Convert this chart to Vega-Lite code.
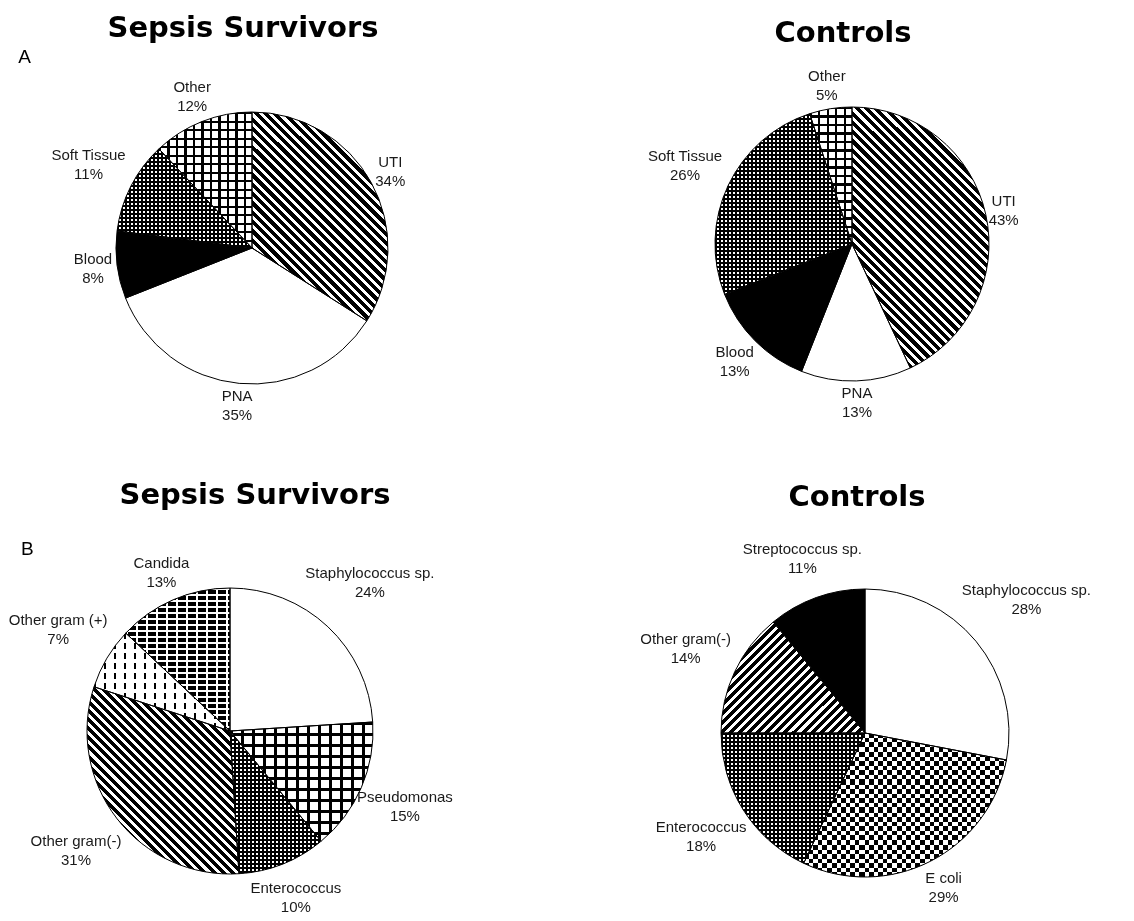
{
  "$schema": "https://vega.github.io/schema/vega-lite/v6.json",
  "background": "#ffffff",
  "padding": {"left": 8, "top": 14, "right": 0, "bottom": 0},
  "params": [
    {"name": "stripes", "value": [
      {"offset":0,"color":"#000"},{"offset":0.011,"color":"#000"},{"offset":0.011,"color":"#fff"},{"offset":0.02,"color":"#fff"},
      {"offset":0.02,"color":"#000"},{"offset":0.031,"color":"#000"},{"offset":0.031,"color":"#fff"},{"offset":0.04,"color":"#fff"},
      {"offset":0.04,"color":"#000"},{"offset":0.051,"color":"#000"},{"offset":0.051,"color":"#fff"},{"offset":0.06,"color":"#fff"},
      {"offset":0.06,"color":"#000"},{"offset":0.071,"color":"#000"},{"offset":0.071,"color":"#fff"},{"offset":0.08,"color":"#fff"},
      {"offset":0.08,"color":"#000"},{"offset":0.091,"color":"#000"},{"offset":0.091,"color":"#fff"},{"offset":0.1,"color":"#fff"},
      {"offset":0.1,"color":"#000"},{"offset":0.111,"color":"#000"},{"offset":0.111,"color":"#fff"},{"offset":0.12,"color":"#fff"},
      {"offset":0.12,"color":"#000"},{"offset":0.131,"color":"#000"},{"offset":0.131,"color":"#fff"},{"offset":0.14,"color":"#fff"},
      {"offset":0.14,"color":"#000"},{"offset":0.151,"color":"#000"},{"offset":0.151,"color":"#fff"},{"offset":0.16,"color":"#fff"},
      {"offset":0.16,"color":"#000"},{"offset":0.171,"color":"#000"},{"offset":0.171,"color":"#fff"},{"offset":0.18,"color":"#fff"},
      {"offset":0.18,"color":"#000"},{"offset":0.191,"color":"#000"},{"offset":0.191,"color":"#fff"},{"offset":0.2,"color":"#fff"},
      {"offset":0.2,"color":"#000"},{"offset":0.211,"color":"#000"},{"offset":0.211,"color":"#fff"},{"offset":0.22,"color":"#fff"},
      {"offset":0.22,"color":"#000"},{"offset":0.231,"color":"#000"},{"offset":0.231,"color":"#fff"},{"offset":0.24,"color":"#fff"},
      {"offset":0.24,"color":"#000"},{"offset":0.251,"color":"#000"},{"offset":0.251,"color":"#fff"},{"offset":0.26,"color":"#fff"},
      {"offset":0.26,"color":"#000"},{"offset":0.271,"color":"#000"},{"offset":0.271,"color":"#fff"},{"offset":0.28,"color":"#fff"},
      {"offset":0.28,"color":"#000"},{"offset":0.291,"color":"#000"},{"offset":0.291,"color":"#fff"},{"offset":0.3,"color":"#fff"},
      {"offset":0.3,"color":"#000"},{"offset":0.311,"color":"#000"},{"offset":0.311,"color":"#fff"},{"offset":0.32,"color":"#fff"},
      {"offset":0.32,"color":"#000"},{"offset":0.331,"color":"#000"},{"offset":0.331,"color":"#fff"},{"offset":0.34,"color":"#fff"},
      {"offset":0.34,"color":"#000"},{"offset":0.351,"color":"#000"},{"offset":0.351,"color":"#fff"},{"offset":0.36,"color":"#fff"},
      {"offset":0.36,"color":"#000"},{"offset":0.371,"color":"#000"},{"offset":0.371,"color":"#fff"},{"offset":0.38,"color":"#fff"},
      {"offset":0.38,"color":"#000"},{"offset":0.391,"color":"#000"},{"offset":0.391,"color":"#fff"},{"offset":0.4,"color":"#fff"},
      {"offset":0.4,"color":"#000"},{"offset":0.411,"color":"#000"},{"offset":0.411,"color":"#fff"},{"offset":0.42,"color":"#fff"},
      {"offset":0.42,"color":"#000"},{"offset":0.431,"color":"#000"},{"offset":0.431,"color":"#fff"},{"offset":0.44,"color":"#fff"},
      {"offset":0.44,"color":"#000"},{"offset":0.451,"color":"#000"},{"offset":0.451,"color":"#fff"},{"offset":0.46,"color":"#fff"},
      {"offset":0.46,"color":"#000"},{"offset":0.471,"color":"#000"},{"offset":0.471,"color":"#fff"},{"offset":0.48,"color":"#fff"},
      {"offset":0.48,"color":"#000"},{"offset":0.491,"color":"#000"},{"offset":0.491,"color":"#fff"},{"offset":0.5,"color":"#fff"},
      {"offset":0.5,"color":"#000"},{"offset":0.511,"color":"#000"},{"offset":0.511,"color":"#fff"},{"offset":0.52,"color":"#fff"},
      {"offset":0.52,"color":"#000"},{"offset":0.531,"color":"#000"},{"offset":0.531,"color":"#fff"},{"offset":0.54,"color":"#fff"},
      {"offset":0.54,"color":"#000"},{"offset":0.551,"color":"#000"},{"offset":0.551,"color":"#fff"},{"offset":0.56,"color":"#fff"},
      {"offset":0.56,"color":"#000"},{"offset":0.571,"color":"#000"},{"offset":0.571,"color":"#fff"},{"offset":0.58,"color":"#fff"},
      {"offset":0.58,"color":"#000"},{"offset":0.591,"color":"#000"},{"offset":0.591,"color":"#fff"},{"offset":0.6,"color":"#fff"},
      {"offset":0.6,"color":"#000"},{"offset":0.611,"color":"#000"},{"offset":0.611,"color":"#fff"},{"offset":0.62,"color":"#fff"},
      {"offset":0.62,"color":"#000"},{"offset":0.631,"color":"#000"},{"offset":0.631,"color":"#fff"},{"offset":0.64,"color":"#fff"},
      {"offset":0.64,"color":"#000"},{"offset":0.651,"color":"#000"},{"offset":0.651,"color":"#fff"},{"offset":0.66,"color":"#fff"},
      {"offset":0.66,"color":"#000"},{"offset":0.671,"color":"#000"},{"offset":0.671,"color":"#fff"},{"offset":0.68,"color":"#fff"},
      {"offset":0.68,"color":"#000"},{"offset":0.691,"color":"#000"},{"offset":0.691,"color":"#fff"},{"offset":0.7,"color":"#fff"},
      {"offset":0.7,"color":"#000"},{"offset":0.711,"color":"#000"},{"offset":0.711,"color":"#fff"},{"offset":0.72,"color":"#fff"},
      {"offset":0.72,"color":"#000"},{"offset":0.731,"color":"#000"},{"offset":0.731,"color":"#fff"},{"offset":0.74,"color":"#fff"},
      {"offset":0.74,"color":"#000"},{"offset":0.751,"color":"#000"},{"offset":0.751,"color":"#fff"},{"offset":0.76,"color":"#fff"},
      {"offset":0.76,"color":"#000"},{"offset":0.771,"color":"#000"},{"offset":0.771,"color":"#fff"},{"offset":0.78,"color":"#fff"},
      {"offset":0.78,"color":"#000"},{"offset":0.791,"color":"#000"},{"offset":0.791,"color":"#fff"},{"offset":0.8,"color":"#fff"},
      {"offset":0.8,"color":"#000"},{"offset":0.811,"color":"#000"},{"offset":0.811,"color":"#fff"},{"offset":0.82,"color":"#fff"},
      {"offset":0.82,"color":"#000"},{"offset":0.831,"color":"#000"},{"offset":0.831,"color":"#fff"},{"offset":0.84,"color":"#fff"},
      {"offset":0.84,"color":"#000"},{"offset":0.851,"color":"#000"},{"offset":0.851,"color":"#fff"},{"offset":0.86,"color":"#fff"},
      {"offset":0.86,"color":"#000"},{"offset":0.871,"color":"#000"},{"offset":0.871,"color":"#fff"},{"offset":0.88,"color":"#fff"},
      {"offset":0.88,"color":"#000"},{"offset":0.891,"color":"#000"},{"offset":0.891,"color":"#fff"},{"offset":0.9,"color":"#fff"},
      {"offset":0.9,"color":"#000"},{"offset":0.911,"color":"#000"},{"offset":0.911,"color":"#fff"},{"offset":0.92,"color":"#fff"},
      {"offset":0.92,"color":"#000"},{"offset":0.931,"color":"#000"},{"offset":0.931,"color":"#fff"},{"offset":0.94,"color":"#fff"},
      {"offset":0.94,"color":"#000"},{"offset":0.951,"color":"#000"},{"offset":0.951,"color":"#fff"},{"offset":0.96,"color":"#fff"},
      {"offset":0.96,"color":"#000"},{"offset":0.971,"color":"#000"},{"offset":0.971,"color":"#fff"},{"offset":0.98,"color":"#fff"},
      {"offset":0.98,"color":"#000"},{"offset":0.991,"color":"#000"},{"offset":0.991,"color":"#fff"},{"offset":1,"color":"#fff"}
    ]},
    {"name": "lines", "value": [
      {"offset":0,"color":"#000"},{"offset":0.005,"color":"#000"},{"offset":0.005,"color":"#fff"},{"offset":0.02,"color":"#fff"},
      {"offset":0.02,"color":"#000"},{"offset":0.025,"color":"#000"},{"offset":0.025,"color":"#fff"},{"offset":0.04,"color":"#fff"},
      {"offset":0.04,"color":"#000"},{"offset":0.045,"color":"#000"},{"offset":0.045,"color":"#fff"},{"offset":0.06,"color":"#fff"},
      {"offset":0.06,"color":"#000"},{"offset":0.065,"color":"#000"},{"offset":0.065,"color":"#fff"},{"offset":0.08,"color":"#fff"},
      {"offset":0.08,"color":"#000"},{"offset":0.085,"color":"#000"},{"offset":0.085,"color":"#fff"},{"offset":0.1,"color":"#fff"},
      {"offset":0.1,"color":"#000"},{"offset":0.105,"color":"#000"},{"offset":0.105,"color":"#fff"},{"offset":0.12,"color":"#fff"},
      {"offset":0.12,"color":"#000"},{"offset":0.125,"color":"#000"},{"offset":0.125,"color":"#fff"},{"offset":0.14,"color":"#fff"},
      {"offset":0.14,"color":"#000"},{"offset":0.145,"color":"#000"},{"offset":0.145,"color":"#fff"},{"offset":0.16,"color":"#fff"},
      {"offset":0.16,"color":"#000"},{"offset":0.165,"color":"#000"},{"offset":0.165,"color":"#fff"},{"offset":0.18,"color":"#fff"},
      {"offset":0.18,"color":"#000"},{"offset":0.185,"color":"#000"},{"offset":0.185,"color":"#fff"},{"offset":0.2,"color":"#fff"},
      {"offset":0.2,"color":"#000"},{"offset":0.205,"color":"#000"},{"offset":0.205,"color":"#fff"},{"offset":0.22,"color":"#fff"},
      {"offset":0.22,"color":"#000"},{"offset":0.225,"color":"#000"},{"offset":0.225,"color":"#fff"},{"offset":0.24,"color":"#fff"},
      {"offset":0.24,"color":"#000"},{"offset":0.245,"color":"#000"},{"offset":0.245,"color":"#fff"},{"offset":0.26,"color":"#fff"},
      {"offset":0.26,"color":"#000"},{"offset":0.265,"color":"#000"},{"offset":0.265,"color":"#fff"},{"offset":0.28,"color":"#fff"},
      {"offset":0.28,"color":"#000"},{"offset":0.285,"color":"#000"},{"offset":0.285,"color":"#fff"},{"offset":0.3,"color":"#fff"},
      {"offset":0.3,"color":"#000"},{"offset":0.305,"color":"#000"},{"offset":0.305,"color":"#fff"},{"offset":0.32,"color":"#fff"},
      {"offset":0.32,"color":"#000"},{"offset":0.325,"color":"#000"},{"offset":0.325,"color":"#fff"},{"offset":0.34,"color":"#fff"},
      {"offset":0.34,"color":"#000"},{"offset":0.345,"color":"#000"},{"offset":0.345,"color":"#fff"},{"offset":0.36,"color":"#fff"},
      {"offset":0.36,"color":"#000"},{"offset":0.365,"color":"#000"},{"offset":0.365,"color":"#fff"},{"offset":0.38,"color":"#fff"},
      {"offset":0.38,"color":"#000"},{"offset":0.385,"color":"#000"},{"offset":0.385,"color":"#fff"},{"offset":0.4,"color":"#fff"},
      {"offset":0.4,"color":"#000"},{"offset":0.405,"color":"#000"},{"offset":0.405,"color":"#fff"},{"offset":0.42,"color":"#fff"},
      {"offset":0.42,"color":"#000"},{"offset":0.425,"color":"#000"},{"offset":0.425,"color":"#fff"},{"offset":0.44,"color":"#fff"},
      {"offset":0.44,"color":"#000"},{"offset":0.445,"color":"#000"},{"offset":0.445,"color":"#fff"},{"offset":0.46,"color":"#fff"},
      {"offset":0.46,"color":"#000"},{"offset":0.465,"color":"#000"},{"offset":0.465,"color":"#fff"},{"offset":0.48,"color":"#fff"},
      {"offset":0.48,"color":"#000"},{"offset":0.485,"color":"#000"},{"offset":0.485,"color":"#fff"},{"offset":0.5,"color":"#fff"},
      {"offset":0.5,"color":"#000"},{"offset":0.505,"color":"#000"},{"offset":0.505,"color":"#fff"},{"offset":0.52,"color":"#fff"},
      {"offset":0.52,"color":"#000"},{"offset":0.525,"color":"#000"},{"offset":0.525,"color":"#fff"},{"offset":0.54,"color":"#fff"},
      {"offset":0.54,"color":"#000"},{"offset":0.545,"color":"#000"},{"offset":0.545,"color":"#fff"},{"offset":0.56,"color":"#fff"},
      {"offset":0.56,"color":"#000"},{"offset":0.565,"color":"#000"},{"offset":0.565,"color":"#fff"},{"offset":0.58,"color":"#fff"},
      {"offset":0.58,"color":"#000"},{"offset":0.585,"color":"#000"},{"offset":0.585,"color":"#fff"},{"offset":0.6,"color":"#fff"},
      {"offset":0.6,"color":"#000"},{"offset":0.605,"color":"#000"},{"offset":0.605,"color":"#fff"},{"offset":0.62,"color":"#fff"},
      {"offset":0.62,"color":"#000"},{"offset":0.625,"color":"#000"},{"offset":0.625,"color":"#fff"},{"offset":0.64,"color":"#fff"},
      {"offset":0.64,"color":"#000"},{"offset":0.645,"color":"#000"},{"offset":0.645,"color":"#fff"},{"offset":0.66,"color":"#fff"},
      {"offset":0.66,"color":"#000"},{"offset":0.665,"color":"#000"},{"offset":0.665,"color":"#fff"},{"offset":0.68,"color":"#fff"},
      {"offset":0.68,"color":"#000"},{"offset":0.685,"color":"#000"},{"offset":0.685,"color":"#fff"},{"offset":0.7,"color":"#fff"},
      {"offset":0.7,"color":"#000"},{"offset":0.705,"color":"#000"},{"offset":0.705,"color":"#fff"},{"offset":0.72,"color":"#fff"},
      {"offset":0.72,"color":"#000"},{"offset":0.725,"color":"#000"},{"offset":0.725,"color":"#fff"},{"offset":0.74,"color":"#fff"},
      {"offset":0.74,"color":"#000"},{"offset":0.745,"color":"#000"},{"offset":0.745,"color":"#fff"},{"offset":0.76,"color":"#fff"},
      {"offset":0.76,"color":"#000"},{"offset":0.765,"color":"#000"},{"offset":0.765,"color":"#fff"},{"offset":0.78,"color":"#fff"},
      {"offset":0.78,"color":"#000"},{"offset":0.785,"color":"#000"},{"offset":0.785,"color":"#fff"},{"offset":0.8,"color":"#fff"},
      {"offset":0.8,"color":"#000"},{"offset":0.805,"color":"#000"},{"offset":0.805,"color":"#fff"},{"offset":0.82,"color":"#fff"},
      {"offset":0.82,"color":"#000"},{"offset":0.825,"color":"#000"},{"offset":0.825,"color":"#fff"},{"offset":0.84,"color":"#fff"},
      {"offset":0.84,"color":"#000"},{"offset":0.845,"color":"#000"},{"offset":0.845,"color":"#fff"},{"offset":0.86,"color":"#fff"},
      {"offset":0.86,"color":"#000"},{"offset":0.865,"color":"#000"},{"offset":0.865,"color":"#fff"},{"offset":0.88,"color":"#fff"},
      {"offset":0.88,"color":"#000"},{"offset":0.885,"color":"#000"},{"offset":0.885,"color":"#fff"},{"offset":0.9,"color":"#fff"},
      {"offset":0.9,"color":"#000"},{"offset":0.905,"color":"#000"},{"offset":0.905,"color":"#fff"},{"offset":0.92,"color":"#fff"},
      {"offset":0.92,"color":"#000"},{"offset":0.925,"color":"#000"},{"offset":0.925,"color":"#fff"},{"offset":0.94,"color":"#fff"},
      {"offset":0.94,"color":"#000"},{"offset":0.945,"color":"#000"},{"offset":0.945,"color":"#fff"},{"offset":0.96,"color":"#fff"},
      {"offset":0.96,"color":"#000"},{"offset":0.965,"color":"#000"},{"offset":0.965,"color":"#fff"},{"offset":0.98,"color":"#fff"},
      {"offset":0.98,"color":"#000"},{"offset":0.985,"color":"#000"},{"offset":0.985,"color":"#fff"},{"offset":1,"color":"#fff"}
    ]}
  ],
  "config": {"view": {"stroke": null}},
  "spacing": 36,
  "vconcat": [
    {
      "title": {"text": "A", "orient": "left", "anchor": "end", "frame": "group", "angle": 0, "align": "left", "baseline": "top", "font": "Liberation Sans", "fontSize": 19, "fontWeight": "normal", "color": "#000000", "offset": 0, "dy": -3},
      "bounds": "flush",
      "spacing": 148,
      "hconcat": [
        {
          "width": 442, "height": 394,
          "title": {"text": "Sepsis Survivors", "font": "DejaVu Sans", "fontSize": 29, "fontWeight": "bold", "color": "#000000", "anchor": "middle", "frame": "group", "baseline": "alphabetic", "offset": -15, "dx": -9},
          "data": {"values": [
            {"name": "UTI", "pct": 34},
            {"name": "PNA", "pct": 35},
            {"name": "Blood", "pct": 8},
            {"name": "Soft Tissue", "pct": 11},
            {"name": "Other", "pct": 12}
          ]},
          "transform": [
            {"window": [{"op": "sum", "field": "pct", "as": "end"}], "frame": [null, 0]},
            {"calculate": "datum.end - datum.pct", "as": "start"},
            {"calculate": "datum.end - datum.pct / 2", "as": "mid"},
            {"calculate": "datum.name + '\\n' + datum.pct + '%'", "as": "label"},
            {"calculate": "140 + abs(sin(datum.mid * PI / 50)) * length(datum.name) * 3.65 + abs(cos(datum.mid * PI / 50)) * 17", "as": "lr"}
          ],
          "layer": [
            {"mark": {"type": "arc", "radius": 136},
             "encoding": {"theta": {"field": "start", "type": "quantitative", "stack": null, "scale": {"domain": [0, 100]}}, "theta2": {"field": "end"},
                          "fill": {"condition": {"test": "datum.name === 'Blood'", "value": "#000000"}, "value": "#ffffff"}}},
            {"transform": [{"filter": "datum.name === 'UTI'"}],
             "mark": {"type": "arc", "radius": 136, "fill": {"expr": "{'gradient': 'linear', 'x1': 1, 'y1': 0, 'x2': -0.0215, 'y2': 1.569, 'stops': stripes}"}},
             "encoding": {"theta": {"field": "start", "type": "quantitative", "stack": null, "scale": {"domain": [0, 100]}}, "theta2": {"field": "end"}}},
            {"transform": [{"filter": "datum.name === 'Other'"}],
             "mark": {"type": "arc", "radius": 136, "fill": {"expr": "{'gradient': 'linear', 'x1': 0, 'y1': 0, 'x2': 0, 'y2': 3.125, 'stops': lines}"}},
             "encoding": {"theta": {"field": "start", "type": "quantitative", "stack": null, "scale": {"domain": [0, 100]}}, "theta2": {"field": "end"}}},
            {"transform": [{"filter": "datum.name === 'Other'"}],
             "mark": {"type": "arc", "radius": 136, "blend": "multiply", "fill": {"expr": "{'gradient': 'linear', 'x1': 0, 'y1': 0, 'x2': 4.565, 'y2': 0, 'stops': lines}"}},
             "encoding": {"theta": {"field": "start", "type": "quantitative", "stack": null, "scale": {"domain": [0, 100]}}, "theta2": {"field": "end"}}},
            {"transform": [{"filter": "datum.name === 'Soft Tissue'"}],
             "mark": {"type": "arc", "radius": 136, "fill": {"expr": "{'gradient': 'linear', 'x1': 0, 'y1': 0, 'x2': 0, 'y2': 2.018, 'stops': stripes}"}},
             "encoding": {"theta": {"field": "start", "type": "quantitative", "stack": null, "scale": {"domain": [0, 100]}}, "theta2": {"field": "end"}}},
            {"transform": [{"filter": "datum.name === 'Soft Tissue'"}],
             "mark": {"type": "arc", "radius": 136, "blend": "multiply", "fill": {"expr": "{'gradient': 'linear', 'x1': 0, 'y1': 0, 'x2': 1.483, 'y2': 0, 'stops': stripes}"}},
             "encoding": {"theta": {"field": "start", "type": "quantitative", "stack": null, "scale": {"domain": [0, 100]}}, "theta2": {"field": "end"}}},
            {"mark": {"type": "arc", "radius": 136, "filled": false, "stroke": "#000000", "strokeWidth": 1},
             "encoding": {"theta": {"field": "start", "type": "quantitative", "stack": null, "scale": {"domain": [0, 100]}}, "theta2": {"field": "end"}}},
            {"mark": {"type": "text", "font": "Liberation Sans", "fontSize": 15, "lineBreak": "\n", "lineHeight": 19, "color": "#1a1a1a", "align": "center", "baseline": "middle", "dy": -9.5},
             "encoding": {"theta": {"field": "mid", "type": "quantitative", "stack": null, "scale": {"domain": [0, 100]}},
                          "radius": {"field": "lr", "type": "quantitative", "scale": null},
                          "text": {"field": "label", "type": "nominal"}}}
          ]
        },
        {
          "width": 462, "height": 386,
          "title": {"text": "Controls", "font": "DejaVu Sans", "fontSize": 29, "fontWeight": "bold", "color": "#000000", "anchor": "middle", "frame": "group", "baseline": "alphabetic", "offset": -20, "dx": -9},
          "data": {"values": [
            {"name": "UTI", "pct": 43},
            {"name": "PNA", "pct": 13},
            {"name": "Blood", "pct": 13},
            {"name": "Soft Tissue", "pct": 26},
            {"name": "Other", "pct": 5}
          ]},
          "transform": [
            {"window": [{"op": "sum", "field": "pct", "as": "end"}], "frame": [null, 0]},
            {"calculate": "datum.end - datum.pct", "as": "start"},
            {"calculate": "datum.end - datum.pct / 2", "as": "mid"},
            {"calculate": "datum.name + '\\n' + datum.pct + '%'", "as": "label"},
            {"calculate": "141 + abs(sin(datum.mid * PI / 50)) * length(datum.name) * 3.65 + abs(cos(datum.mid * PI / 50)) * 17", "as": "lr"}
          ],
          "layer": [
            {"mark": {"type": "arc", "radius": 137},
             "encoding": {"theta": {"field": "start", "type": "quantitative", "stack": null, "scale": {"domain": [0, 100]}}, "theta2": {"field": "end"},
                          "fill": {"condition": {"test": "datum.name === 'Blood'", "value": "#000000"}, "value": "#ffffff"}}},
            {"transform": [{"filter": "datum.name === 'UTI'"}],
             "mark": {"type": "arc", "radius": 137, "fill": {"expr": "{'gradient': 'linear', 'x1': 1, 'y1': 0, 'x2': 0.2642, 'y2': 1.4018, 'stops': stripes}"}},
             "encoding": {"theta": {"field": "start", "type": "quantitative", "stack": null, "scale": {"domain": [0, 100]}}, "theta2": {"field": "end"}}},
            {"transform": [{"filter": "datum.name === 'Other'"}],
             "mark": {"type": "arc", "radius": 137, "fill": {"expr": "{'gradient': 'linear', 'x1': 0, 'y1': 0, 'x2': 0, 'y2': 3.102, 'stops': lines}"}},
             "encoding": {"theta": {"field": "start", "type": "quantitative", "stack": null, "scale": {"domain": [0, 100]}}, "theta2": {"field": "end"}}},
            {"transform": [{"filter": "datum.name === 'Other'"}],
             "mark": {"type": "arc", "radius": 137, "blend": "multiply", "fill": {"expr": "{'gradient': 'linear', 'x1': 0, 'y1': 0, 'x2': 10.047, 'y2': 0, 'stops': lines}"}},
             "encoding": {"theta": {"field": "start", "type": "quantitative", "stack": null, "scale": {"domain": [0, 100]}}, "theta2": {"field": "end"}}},
            {"transform": [{"filter": "datum.name === 'Soft Tissue'"}],
             "mark": {"type": "arc", "radius": 137, "fill": {"expr": "{'gradient': 'linear', 'x1': 0, 'y1': 0, 'x2': 0, 'y2': 1.107, 'stops': stripes}"}},
             "encoding": {"theta": {"field": "start", "type": "quantitative", "stack": null, "scale": {"domain": [0, 100]}}, "theta2": {"field": "end"}}},
            {"transform": [{"filter": "datum.name === 'Soft Tissue'"}],
             "mark": {"type": "arc", "radius": 137, "blend": "multiply", "fill": {"expr": "{'gradient': 'linear', 'x1': 0, 'y1': 0, 'x2': 1.46, 'y2': 0, 'stops': stripes}"}},
             "encoding": {"theta": {"field": "start", "type": "quantitative", "stack": null, "scale": {"domain": [0, 100]}}, "theta2": {"field": "end"}}},
            {"mark": {"type": "arc", "radius": 137, "filled": false, "stroke": "#000000", "strokeWidth": 1},
             "encoding": {"theta": {"field": "start", "type": "quantitative", "stack": null, "scale": {"domain": [0, 100]}}, "theta2": {"field": "end"}}},
            {"mark": {"type": "text", "font": "Liberation Sans", "fontSize": 15, "lineBreak": "\n", "lineHeight": 19, "color": "#1a1a1a", "align": "center", "baseline": "middle", "dy": -9.5},
             "encoding": {"theta": {"field": "mid", "type": "quantitative", "stack": null, "scale": {"domain": [0, 100]}},
                          "radius": {"field": "lr", "type": "quantitative", "scale": null},
                          "text": {"field": "label", "type": "nominal"}}}
          ]
        }
      ]
    },
    {
      "title": {"text": "B", "orient": "left", "anchor": "end", "frame": "group", "angle": 0, "align": "left", "baseline": "top", "font": "Liberation Sans", "fontSize": 19, "fontWeight": "normal", "color": "#000000", "offset": -25, "dy": -5},
      "bounds": "flush",
      "spacing": 202,
      "hconcat": [
        {
          "width": 398, "height": 372,
          "title": {"text": "Sepsis Survivors", "font": "DejaVu Sans", "fontSize": 29, "fontWeight": "bold", "color": "#000000", "anchor": "middle", "frame": "group", "baseline": "alphabetic", "offset": 12, "dx": 25},
          "data": {"values": [
            {"name": "Staphylococcus sp.", "pct": 24},
            {"name": "Pseudomonas", "pct": 15},
            {"name": "Enterococcus", "pct": 10},
            {"name": "Other gram(-)", "pct": 31},
            {"name": "Other gram (+)", "pct": 7},
            {"name": "Candida", "pct": 13}
          ]},
          "transform": [
            {"window": [{"op": "sum", "field": "pct", "as": "end"}], "frame": [null, 0]},
            {"calculate": "datum.end - datum.pct", "as": "start"},
            {"calculate": "datum.end - datum.pct / 2", "as": "mid"},
            {"calculate": "datum.name + '\\n' + datum.pct + '%'", "as": "label"},
            {"calculate": "147 + abs(sin(datum.mid * PI / 50)) * length(datum.name) * 3.65 + abs(cos(datum.mid * PI / 50)) * 17", "as": "lr"}
          ],
          "layer": [
            {"mark": {"type": "arc", "radius": 143, "fill": "#ffffff"},
             "encoding": {"theta": {"field": "start", "type": "quantitative", "stack": null, "scale": {"domain": [0, 100]}}, "theta2": {"field": "end"}}},
            {"transform": [{"filter": "datum.name === 'Pseudomonas'"}],
             "mark": {"type": "arc", "radius": 143, "fill": {"expr": "{'gradient': 'linear', 'x1': 0, 'y1': 0, 'x2': 0, 'y2': 4.614, 'stops': lines}"}},
             "encoding": {"theta": {"field": "start", "type": "quantitative", "stack": null, "scale": {"domain": [0, 100]}}, "theta2": {"field": "end"}}},
            {"transform": [{"filter": "datum.name === 'Pseudomonas'"}],
             "mark": {"type": "arc", "radius": 143, "blend": "multiply", "fill": {"expr": "{'gradient': 'linear', 'x1': 0, 'y1': 0, 'x2': 3.846, 'y2': 0, 'stops': lines}"}},
             "encoding": {"theta": {"field": "start", "type": "quantitative", "stack": null, "scale": {"domain": [0, 100]}}, "theta2": {"field": "end"}}},
            {"transform": [{"filter": "datum.name === 'Enterococcus'"}],
             "mark": {"type": "arc", "radius": 143, "fill": {"expr": "{'gradient': 'linear', 'x1': 0, 'y1': 0, 'x2': 0, 'y2': 1.4015, 'stops': stripes}"}},
             "encoding": {"theta": {"field": "start", "type": "quantitative", "stack": null, "scale": {"domain": [0, 100]}}, "theta2": {"field": "end"}}},
            {"transform": [{"filter": "datum.name === 'Enterococcus'"}],
             "mark": {"type": "arc", "radius": 143, "blend": "multiply", "fill": {"expr": "{'gradient': 'linear', 'x1': 0, 'y1': 0, 'x2': 2.195, 'y2': 0, 'stops': stripes}"}},
             "encoding": {"theta": {"field": "start", "type": "quantitative", "stack": null, "scale": {"domain": [0, 100]}}, "theta2": {"field": "end"}}},
            {"transform": [{"filter": "datum.name === 'Other gram(-)'"}],
             "mark": {"type": "arc", "radius": 143, "fill": {"expr": "{'gradient': 'linear', 'x1': 1, 'y1': 0, 'x2': -0.183, 'y2': 1.4569, 'stops': stripes}"}},
             "encoding": {"theta": {"field": "start", "type": "quantitative", "stack": null, "scale": {"domain": [0, 100]}}, "theta2": {"field": "end"}}},
            {"transform": [{"filter": "datum.name === 'Other gram (+)'"}],
             "mark": {"type": "arc", "radius": 143, "fill": {"expr": "{'gradient': 'linear', 'x1': 0, 'y1': 0, 'x2': 3.676, 'y2': 0, 'stops': lines}"}},
             "encoding": {"theta": {"field": "start", "type": "quantitative", "stack": null, "scale": {"domain": [0, 100]}}, "theta2": {"field": "end"}}},
            {"transform": [{"filter": "datum.name === 'Other gram (+)'"}],
             "mark": {"type": "arc", "radius": 143, "blend": "lighten", "fill": {"expr": "{'gradient': 'linear', 'x1': 0, 'y1': 0, 'x2': 0, 'y2': 5.107, 'stops': stripes}"}},
             "encoding": {"theta": {"field": "start", "type": "quantitative", "stack": null, "scale": {"domain": [0, 100]}}, "theta2": {"field": "end"}}},
            {"transform": [{"filter": "datum.name === 'Candida'"}],
             "mark": {"type": "arc", "radius": 143, "fill": {"expr": "{'gradient': 'linear', 'x1': 0, 'y1': 0, 'x2': 0, 'y2': 2.098, 'stops': lines}"}},
             "encoding": {"theta": {"field": "start", "type": "quantitative", "stack": null, "scale": {"domain": [0, 100]}}, "theta2": {"field": "end"}}},
            {"transform": [{"filter": "datum.name === 'Candida'"}],
             "mark": {"type": "arc", "radius": 143, "blend": "multiply", "fill": {"expr": "{'gradient': 'linear', 'x1': 0, 'y1': 0, 'x2': 4.798, 'y2': 0, 'stops': lines}"}},
             "encoding": {"theta": {"field": "start", "type": "quantitative", "stack": null, "scale": {"domain": [0, 100]}}, "theta2": {"field": "end"}}},
            {"transform": [{"filter": "datum.name === 'Candida'"}],
             "mark": {"type": "arc", "radius": 143, "blend": "difference", "fill": "#ffffff"},
             "encoding": {"theta": {"field": "start", "type": "quantitative", "stack": null, "scale": {"domain": [0, 100]}}, "theta2": {"field": "end"}}},
            {"mark": {"type": "arc", "radius": 143, "filled": false, "stroke": "#000000", "strokeWidth": 1},
             "encoding": {"theta": {"field": "start", "type": "quantitative", "stack": null, "scale": {"domain": [0, 100]}}, "theta2": {"field": "end"}}},
            {"mark": {"type": "text", "font": "Liberation Sans", "fontSize": 15, "lineBreak": "\n", "lineHeight": 19, "color": "#1a1a1a", "align": "center", "baseline": "middle", "dy": -9.5},
             "encoding": {"theta": {"field": "mid", "type": "quantitative", "stack": null, "scale": {"domain": [0, 100]}},
                          "radius": {"field": "lr", "type": "quantitative", "scale": null},
                          "text": {"field": "label", "type": "nominal"}}}
          ]
        },
        {
          "width": 468, "height": 376,
          "title": {"text": "Controls", "font": "DejaVu Sans", "fontSize": 29, "fontWeight": "bold", "color": "#000000", "anchor": "middle", "frame": "group", "baseline": "alphabetic", "offset": 7, "dx": -8},
          "data": {"values": [
            {"name": "Staphylococcus sp.", "pct": 28},
            {"name": "E coli", "pct": 29},
            {"name": "Enterococcus", "pct": 18},
            {"name": "Other gram(-)", "pct": 14},
            {"name": "Streptococcus sp.", "pct": 11}
          ]},
          "transform": [
            {"window": [{"op": "sum", "field": "pct", "as": "end"}], "frame": [null, 0]},
            {"calculate": "datum.end - datum.pct", "as": "start"},
            {"calculate": "datum.end - datum.pct / 2", "as": "mid"},
            {"calculate": "datum.name + '\\n' + datum.pct + '%'", "as": "label"},
            {"calculate": "148 + abs(sin(datum.mid * PI / 50)) * length(datum.name) * 3.65 + abs(cos(datum.mid * PI / 50)) * 17", "as": "lr"}
          ],
          "layer": [
            {"mark": {"type": "arc", "radius": 144},
             "encoding": {"theta": {"field": "start", "type": "quantitative", "stack": null, "scale": {"domain": [0, 100]}}, "theta2": {"field": "end"},
                          "fill": {"condition": {"test": "datum.name === 'Streptococcus sp.'", "value": "#000000"}, "value": "#ffffff"}}},
            {"transform": [{"filter": "datum.name === 'E coli'"}],
             "mark": {"type": "arc", "radius": 144, "fill": {"expr": "{'gradient': 'linear', 'x1': 0, 'y1': 0, 'x2': 0, 'y2': 3.229, 'stops': stripes}"}},
             "encoding": {"theta": {"field": "start", "type": "quantitative", "stack": null, "scale": {"domain": [0, 100]}}, "theta2": {"field": "end"}}},
            {"transform": [{"filter": "datum.name === 'E coli'"}],
             "mark": {"type": "arc", "radius": 144, "blend": "difference", "fill": {"expr": "{'gradient': 'linear', 'x1': 0, 'y1': 0, 'x2': 2.293, 'y2': 0, 'stops': stripes}"}},
             "encoding": {"theta": {"field": "start", "type": "quantitative", "stack": null, "scale": {"domain": [0, 100]}}, "theta2": {"field": "end"}}},
            {"transform": [{"filter": "datum.name === 'Enterococcus'"}],
             "mark": {"type": "arc", "radius": 144, "fill": {"expr": "{'gradient': 'linear', 'x1': 0, 'y1': 0, 'x2': 0, 'y2': 1.535, 'stops': stripes}"}},
             "encoding": {"theta": {"field": "start", "type": "quantitative", "stack": null, "scale": {"domain": [0, 100]}}, "theta2": {"field": "end"}}},
            {"transform": [{"filter": "datum.name === 'Enterococcus'"}],
             "mark": {"type": "arc", "radius": 144, "blend": "multiply", "fill": {"expr": "{'gradient': 'linear', 'x1': 0, 'y1': 0, 'x2': 1.389, 'y2': 0, 'stops': stripes}"}},
             "encoding": {"theta": {"field": "start", "type": "quantitative", "stack": null, "scale": {"domain": [0, 100]}}, "theta2": {"field": "end"}}},
            {"transform": [{"filter": "datum.name === 'Other gram(-)'"}],
             "mark": {"type": "arc", "radius": 144, "fill": {"expr": "{'gradient': 'linear', 'x1': 0, 'y1': 0, 'x2': 1.971, 'y2': 1.52, 'stops': stripes}"}},
             "encoding": {"theta": {"field": "start", "type": "quantitative", "stack": null, "scale": {"domain": [0, 100]}}, "theta2": {"field": "end"}}},
            {"mark": {"type": "arc", "radius": 144, "filled": false, "stroke": "#000000", "strokeWidth": 1},
             "encoding": {"theta": {"field": "start", "type": "quantitative", "stack": null, "scale": {"domain": [0, 100]}}, "theta2": {"field": "end"}}},
            {"mark": {"type": "text", "font": "Liberation Sans", "fontSize": 15, "lineBreak": "\n", "lineHeight": 19, "color": "#1a1a1a", "align": "center", "baseline": "middle", "dy": -9.5},
             "encoding": {"theta": {"field": "mid", "type": "quantitative", "stack": null, "scale": {"domain": [0, 100]}},
                          "radius": {"field": "lr", "type": "quantitative", "scale": null},
                          "text": {"field": "label", "type": "nominal"}}}
          ]
        }
      ]
    }
  ]
}
